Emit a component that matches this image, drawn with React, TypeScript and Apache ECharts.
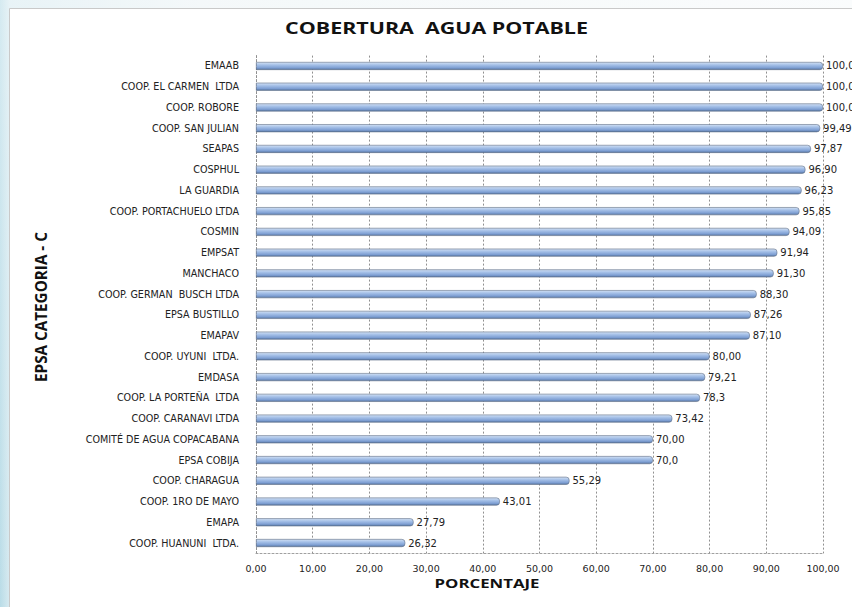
import React, { useEffect, useRef } from "react";
import * as echarts from "echarts";

const chartTitle = "COBERTURA  AGUA POTABLE";
const yAxisName = "EPSA CATEGORIA - C";
const xAxisName = "PORCENTAJE";

const categories = [
  "EMAAB",
  "COOP. EL CARMEN  LTDA",
  "COOP. ROBORE",
  "COOP. SAN JULIAN",
  "SEAPAS",
  "COSPHUL",
  "LA GUARDIA",
  "COOP. PORTACHUELO LTDA",
  "COSMIN",
  "EMPSAT",
  "MANCHACO",
  "COOP. GERMAN  BUSCH LTDA",
  "EPSA BUSTILLO",
  "EMAPAV",
  "COOP. UYUNI  LTDA.",
  "EMDASA",
  "COOP. LA PORTEÑA  LTDA",
  "COOP. CARANAVI LTDA",
  "COMITÉ DE AGUA COPACABANA",
  "EPSA COBIJA",
  "COOP. CHARAGUA",
  "COOP. 1RO DE MAYO",
  "EMAPA",
  "COOP. HUANUNI  LTDA.",
];

const values = [
  100, 100, 100, 99.49, 97.87, 96.9, 96.23, 95.85, 94.09, 91.94, 91.3, 88.3,
  87.26, 87.1, 80.0, 79.21, 78.3, 73.42, 70.0, 70.0, 55.29, 43.01, 27.79, 26.32,
];

const valueLabels = [
  "100,00", "100,00", "100,00", "99,49", "97,87", "96,90", "96,23", "95,85",
  "94,09", "91,94", "91,30", "88,30", "87,26", "87,10", "80,00", "79,21",
  "78,3", "73,42", "70,00", "70,0", "55,29", "43,01", "27,79", "26,32",
];

const xMin = 0;
const xMax = 100;
const xInterval = 10;

const TITLE_FONT = "'Open Sans', 'DejaVu Sans', sans-serif";
const LABEL_FONT = "'DejaVu Sans', 'Open Sans', sans-serif";

function measure(text: string, font: string): number {
  const ctx = document.createElement("canvas").getContext("2d");
  if (!ctx) return 100;
  ctx.font = font;
  return ctx.measureText(text).width || 100;
}

export default function App() {
  const ref = useRef<HTMLDivElement>(null);

  useEffect(() => {
    if (!ref.current) return;
    const chart = echarts.init(ref.current, null, { renderer: "svg" });

    const titleFont = `bold 15.5px ${TITLE_FONT}`;
    const yNameFont = `bold 16.5px ${TITLE_FONT}`;
    const xNameFont = `bold 13px ${TITLE_FONT}`;
    const titleScale = 303 / measure(chartTitle, titleFont);
    const yNameScale = 150 / measure(yAxisName, yNameFont);
    const xNameScale = 105 / measure(xAxisName, xNameFont);

    chart.setOption({
      animation: false,
      backgroundColor: "transparent",
      graphic: [
        {
          type: "rect",
          z: -10,
          silent: true,
          shape: { x: 9.5, y: 8.5, width: 900, height: 700 },
          style: { fill: "#ffffff", stroke: "#c9c9c9", lineWidth: 1 },
        },
        {
          type: "text",
          x: 436.5,
          y: 28,
          scaleX: titleScale,
          style: {
            text: chartTitle,
            font: titleFont,
            fill: "#111111",
            align: "center",
            verticalAlign: "middle",
          },
        },
        {
          type: "text",
          x: 41,
          y: 307,
          rotation: Math.PI / 2,
          scaleX: yNameScale,
          style: {
            text: yAxisName,
            font: yNameFont,
            fill: "#111111",
            align: "center",
            verticalAlign: "middle",
          },
        },
        {
          type: "text",
          x: 487,
          y: 583,
          scaleX: xNameScale,
          style: {
            text: xAxisName,
            font: xNameFont,
            fill: "#111111",
            align: "center",
            verticalAlign: "middle",
          },
        },
      ],
      grid: {
        left: 256,
        right: 29,
        top: 55.6,
        bottom: 53.6,
      },
      xAxis: {
        type: "value",
        min: xMin,
        max: xMax,
        interval: xInterval,
        axisLine: {
          show: true,
          lineStyle: { color: "#a0a0a0", type: [2, 2], width: 1 },
        },
        axisTick: { show: false },
        splitLine: {
          show: true,
          lineStyle: { color: "#909090", type: [2, 2], width: 1 },
        },
        axisLabel: {
          margin: 10,
          color: "#222222",
          fontFamily: LABEL_FONT,
          fontSize: 9.5,
          formatter: (v: number) => v.toFixed(2).replace(".", ","),
        },
      },
      yAxis: {
        type: "category",
        data: categories,
        inverse: true,
        axisLine: {
          show: true,
          lineStyle: { color: "#909090", type: [2, 2], width: 1 },
        },
        axisTick: { show: false },
        axisLabel: {
          margin: 17,
          color: "#222222",
          fontFamily: LABEL_FONT,
          fontSize: 9.6,
        },
      },
      series: [
        {
          type: "bar",
          data: values,
          barWidth: 8,
          itemStyle: {
            color: new echarts.graphic.LinearGradient(0, 0, 0, 1, [
              { offset: 0, color: "#d3e1f4" },
              { offset: 0.35, color: "#a6c1e8" },
              { offset: 0.75, color: "#7e9fd3" },
              { offset: 1, color: "#56749f" },
            ]),
            borderColor: "#5f6f86",
            borderWidth: 0.6,
            borderRadius: [0, 3, 3, 0],
          },
          label: {
            show: true,
            position: "right",
            distance: 3,
            color: "#222222",
            fontFamily: LABEL_FONT,
            fontSize: 10,
            formatter: (p: any) => valueLabels[p.dataIndex],
          },
        },
      ],
    });
    return () => chart.dispose();
  }, []);

  return (
    <div
      style={{
        position: "fixed",
        left: 0,
        top: 0,
        width: 852,
        height: 607,
        background:
          "linear-gradient(180deg, rgba(255,255,255,0.4) 0%, rgba(255,255,255,0) 100%), linear-gradient(90deg, #b9dce7 0px, #d9ebf1 10px, #edf4f6 200px, #f7fafb 852px)",
      }}
    >
      <div ref={ref} style={{ width: 852, height: 607 }} />
    </div>
  );
}
